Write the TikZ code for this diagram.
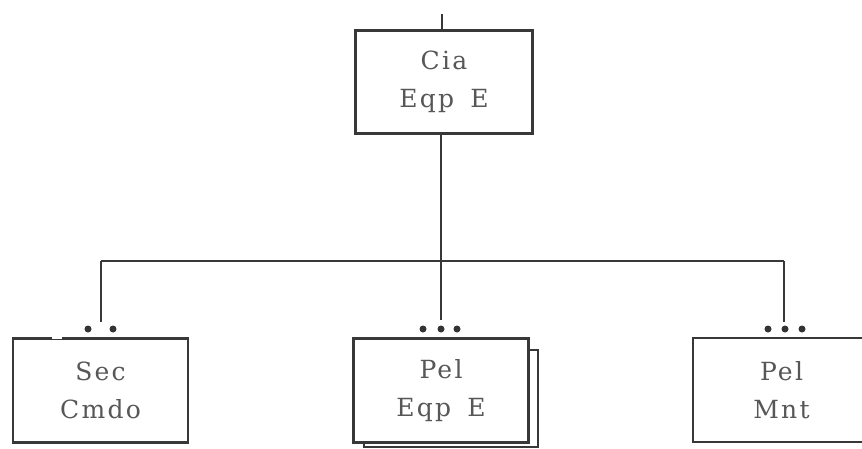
\documentclass[tikz,border=0pt]{standalone}
\usepackage{fontspec}
\newfontfamily\boxfont[LetterSpace=9]{DejaVu Serif}
\begin{document}
\begin{tikzpicture}[x=1pt,y=-1pt,
  unit/.style={draw=black!78, line width=2.2pt, fill=white, minimum width=175pt,
    minimum height=104pt, inner sep=0pt, align=center, text=black!66,
    font=\boxfont\fontsize{25}{38}\selectfont},
  wire/.style={draw=black!78, line width=2.2pt},
  dot/.style={circle, fill=black!80, inner sep=0pt, minimum size=7pt}]
  \useasboundingbox (0,0) rectangle (862,448);

  % company headquarters
  \node[unit, minimum width=177pt, minimum height=103pt] (cia) at (444,82) {Cia\\Eqp\hspace{6pt} E};
  \coordinate (feed) at (442,14);
  \draw[wire] (feed) -- (cia.north -| feed);

  % subordinate units
  \node[unit] (sec) at (100.5,390.5) {Sec\\Cmdo};
  % second platoon sheet behind the first
  \coordinate (shadowTR) at (538,350);
  \coordinate (shadowBL) at (364,447);
  \node[unit] (pel) at (441,390.5) {Pel\\Eqp\hspace{6pt} E};
  \draw[wire] (pel.north east |- shadowTR) -- (shadowTR) -- (shadowTR |- shadowBL) -- (shadowBL) -- (shadowBL |- pel.south);
  \node[unit, minimum width=177pt] (mnt) at (781.5,390) {Pel\\Mnt};

  % small break in the top edge of the command section box
  \draw[white, line width=4pt] ([xshift=40pt]sec.north west) -- ([xshift=50pt]sec.north west);

  % distribution bus
  \coordinate (busL) at (101,261);
  \coordinate (busM) at (441,261);
  \coordinate (busR) at (784,261);
  \coordinate (dropL) at (101,322);
  \coordinate (dropM) at (441,320);
  \coordinate (dropR) at (784,322);
  \draw[wire] (cia.south -| busM) -- (busM);
  \draw[wire] (busL) -- (busR);
  \draw[wire] (busL) -- (dropL);
  \draw[wire] (busM) -- (dropM);
  \draw[wire] (busR) -- (dropR);

  % dotted marks above the boxes
  \node[dot] (dl1) at (88,329) {};
  \node[dot] (dl2) at (113,329) {};
  \node[dot] (dm1) at (423,329) {};
  \node[dot] (dm2) at (441,329) {};
  \node[dot] (dm3) at (457,329) {};
  \node[dot] (dr1) at (768,329) {};
  \node[dot] (dr2) at (785,329) {};
  \node[dot] (dr3) at (802,329) {};
\end{tikzpicture}
\end{document}
